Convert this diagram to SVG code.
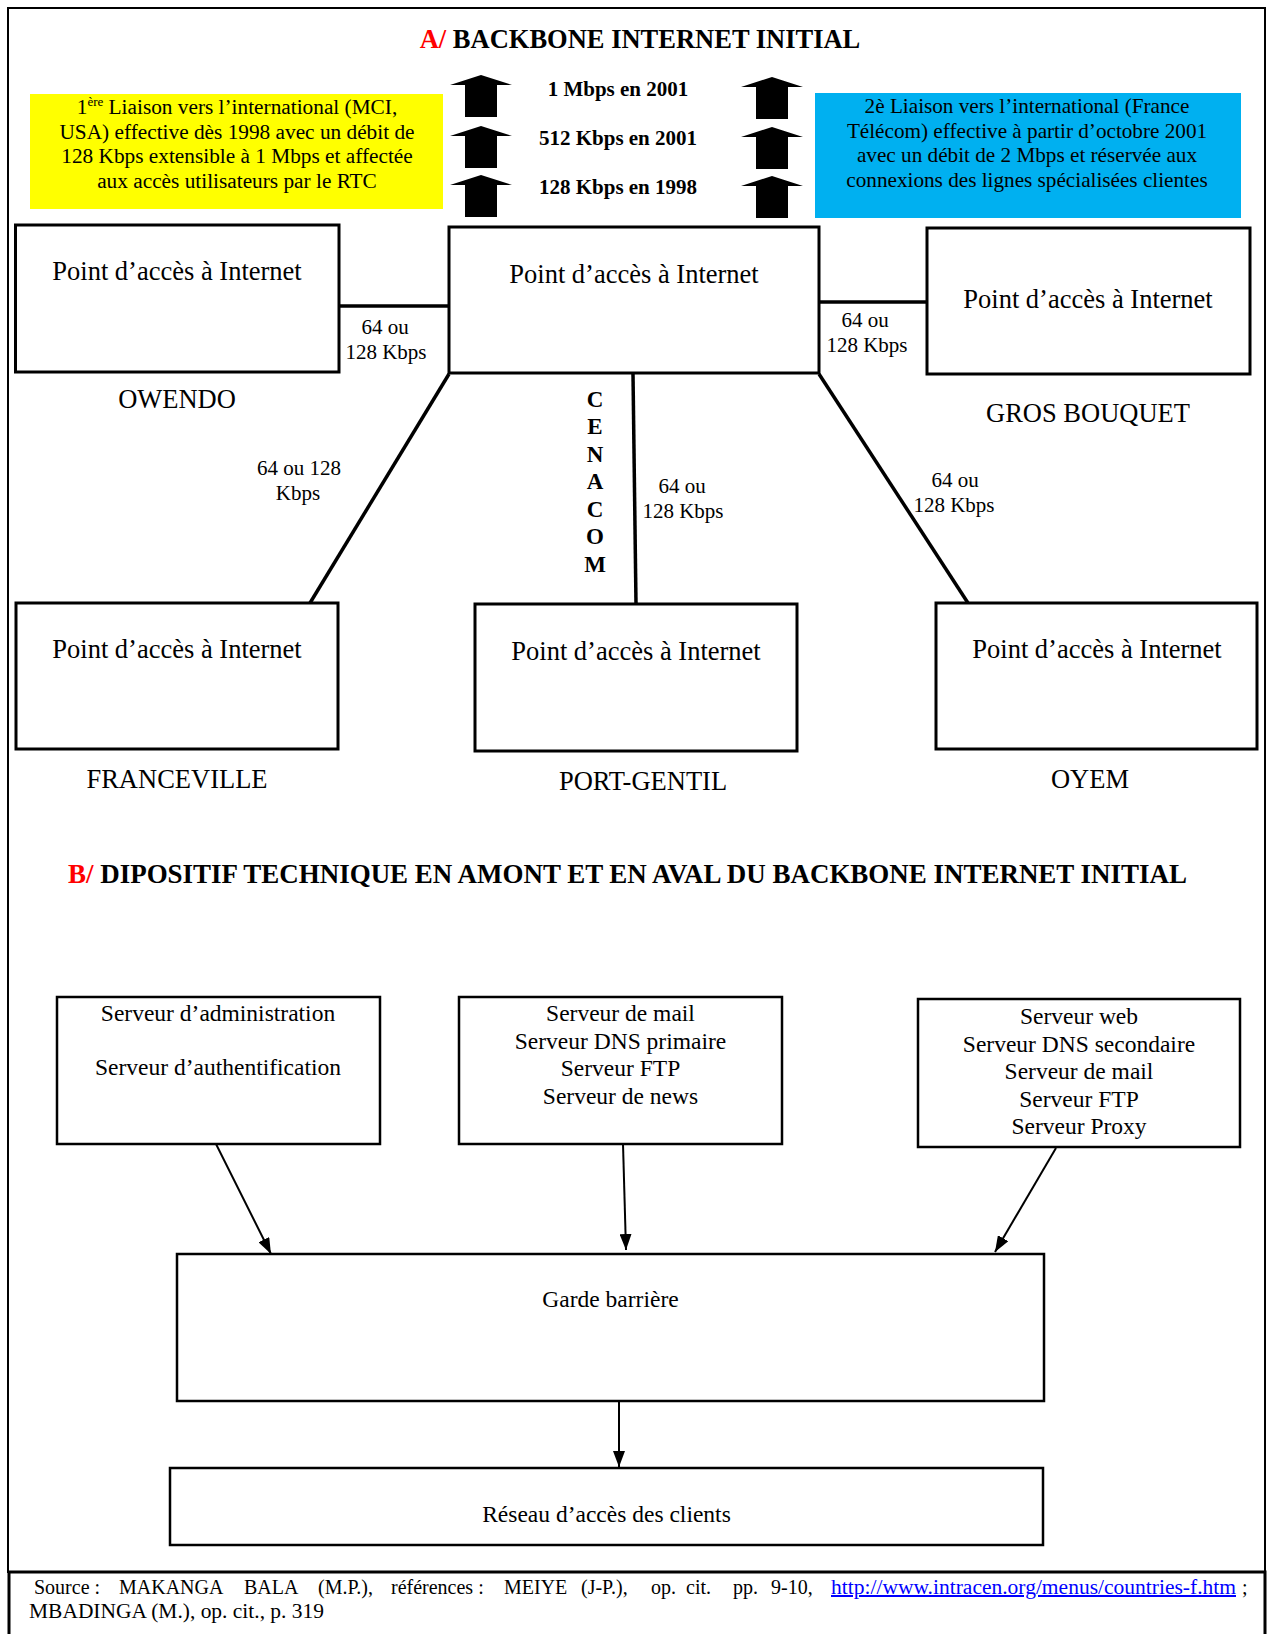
<svg xmlns="http://www.w3.org/2000/svg" width="1268" height="1634" viewBox="0 0 1268 1634">
<defs>
<style>
.t{font-family:"Liberation Serif","Times New Roman",serif;fill:#000}
.b{font-weight:bold}
.box{fill:#fff;stroke:#000;stroke-width:3}
.boxb{fill:#fff;stroke:#000;stroke-width:2.5}
.ln{stroke:#000;stroke-width:3.5;fill:none}
.ar{stroke:#000;stroke-width:2;fill:none;marker-end:url(#ah)}
.red{fill:#ff0000}
.f{font-size:20px}
</style>
<marker id="ah" viewBox="0 0 16 12" refX="16" refY="6" markerWidth="16" markerHeight="12" markerUnits="userSpaceOnUse" orient="auto">
<path d="M0,0 L16,6 L0,12 z" fill="#000"/>
</marker>
<path id="blk" d="M0,0 L31,10 L16,10 L16,42 L-16,42 L-16,10 L-31,10 Z" fill="#000"/>
</defs>
<rect width="1268" height="1634" fill="#fff"/>
<rect x="8" y="8" width="1257" height="1564" fill="none" stroke="#000" stroke-width="2"/>
<path d="M9,1634 L9,1572 L1265,1572 L1265,1634" fill="none" stroke="#000" stroke-width="3"/>

<text class="t b" x="640" y="48" font-size="26.5" text-anchor="middle"><tspan class="red">A/</tspan> BACKBONE INTERNET INITIAL</text>

<g id="uplinks">
<use href="#blk" x="481" y="75"/>
<use href="#blk" x="481" y="126"/>
<use href="#blk" x="481" y="175"/>
<use href="#blk" x="772" y="77"/>
<use href="#blk" x="772" y="127"/>
<use href="#blk" x="772" y="176"/>
<text class="t b" x="618" y="96" font-size="21" text-anchor="middle">1 Mbps en 2001</text>
<text class="t b" x="618" y="145" font-size="21" text-anchor="middle">512 Kbps en 2001</text>
<text class="t b" x="618" y="194" font-size="21" text-anchor="middle">128 Kbps en 1998</text>
</g>

<g id="liaison1">
<rect x="30" y="94" width="413" height="115" fill="#ffff00"/>
<text class="t" x="237" y="114" font-size="21.3" text-anchor="middle">1<tspan font-size="13" dy="-8">ère</tspan><tspan dy="8"> Liaison vers l’international (MCI,</tspan></text>
<text class="t" x="237" y="138.5" font-size="21.3" text-anchor="middle">USA) effective dès 1998 avec un débit de</text>
<text class="t" x="237" y="163" font-size="21.3" text-anchor="middle">128 Kbps extensible à 1 Mbps et affectée</text>
<text class="t" x="237" y="187.5" font-size="21.3" text-anchor="middle">aux accès utilisateurs par le RTC</text>
</g>

<g id="liaison2">
<rect x="815" y="93" width="426" height="125" fill="#00b0f0"/>
<text class="t" x="1027" y="113" font-size="21.2" text-anchor="middle">2è Liaison vers l’international (France</text>
<text class="t" x="1027" y="137.5" font-size="21.2" text-anchor="middle">Télécom) effective à partir d’octobre 2001</text>
<text class="t" x="1027" y="162" font-size="21.2" text-anchor="middle">avec un débit de 2 Mbps et réservée aux</text>
<text class="t" x="1027" y="186.5" font-size="21.2" text-anchor="middle">connexions des lignes spécialisées clientes</text>
</g>

<g id="connectors">
<line class="ln" x1="339" y1="306" x2="449" y2="306"/>
<line class="ln" x1="819" y1="302" x2="927" y2="302"/>
<line class="ln" x1="449" y1="374" x2="310" y2="603"/>
<line class="ln" x1="633" y1="374" x2="636" y2="604"/>
<line class="ln" x1="819" y1="374" x2="968" y2="603"/>
<text class="t" x="385" y="334" font-size="21" text-anchor="middle">64 ou</text>
<text class="t" x="386" y="359" font-size="21" text-anchor="middle">128 Kbps</text>
<text class="t" x="865" y="327" font-size="21" text-anchor="middle">64 ou</text>
<text class="t" x="867" y="352" font-size="21" text-anchor="middle">128 Kbps</text>
<text class="t" x="299" y="475" font-size="21" text-anchor="middle">64 ou 128</text>
<text class="t" x="298" y="500" font-size="21" text-anchor="middle">Kbps</text>
<text class="t" x="682" y="493" font-size="21" text-anchor="middle">64 ou</text>
<text class="t" x="683" y="518" font-size="21" text-anchor="middle">128 Kbps</text>
<text class="t" x="955" y="487" font-size="21" text-anchor="middle">64 ou</text>
<text class="t" x="954" y="512" font-size="21" text-anchor="middle">128 Kbps</text>
<line class="ar" x1="216" y1="1144" x2="271" y2="1254"/>
<line class="ar" x1="623" y1="1144" x2="626" y2="1250"/>
<line class="ar" x1="1056" y1="1148" x2="995" y2="1252"/>
<line class="ar" x1="619" y1="1401" x2="619" y2="1467"/>
</g>

<g id="owendo">
<rect class="box" x="15.5" y="225" width="323.5" height="147"/>
<text class="t" x="177" y="280" font-size="26.5" text-anchor="middle">Point d’accès à Internet</text>
<text class="t" x="177" y="408" font-size="26.5" text-anchor="middle">OWENDO</text>
</g>

<g id="cenacom">
<rect class="box" x="449" y="227" width="370" height="146"/>
<text class="t" x="634" y="283" font-size="26.5" text-anchor="middle">Point d’accès à Internet</text>
<text class="t b" font-size="23" text-anchor="middle"><tspan x="595" y="406.7">C</tspan><tspan x="595" dy="27.5">E</tspan><tspan x="595" dy="27.5">N</tspan><tspan x="595" dy="27.5">A</tspan><tspan x="595" dy="27.5">C</tspan><tspan x="595" dy="27.5">O</tspan><tspan x="595" dy="27.5">M</tspan></text>
</g>

<g id="grosbouquet">
<rect class="box" x="927" y="228" width="323" height="146"/>
<text class="t" x="1088" y="308" font-size="26.5" text-anchor="middle">Point d’accès à Internet</text>
<text class="t" x="1088" y="422" font-size="26.5" text-anchor="middle">GROS BOUQUET</text>
</g>

<g id="franceville">
<rect class="box" x="16" y="603" width="322" height="146"/>
<text class="t" x="177" y="658" font-size="26.5" text-anchor="middle">Point d’accès à Internet</text>
<text class="t" x="177" y="788" font-size="26.5" text-anchor="middle">FRANCEVILLE</text>
</g>

<g id="portgentil">
<rect class="box" x="475" y="604" width="322" height="147"/>
<text class="t" x="636" y="660" font-size="26.5" text-anchor="middle">Point d’accès à Internet</text>
<text class="t" x="643" y="790" font-size="26.5" text-anchor="middle">PORT-GENTIL</text>
</g>

<g id="oyem">
<rect class="box" x="936" y="603" width="321" height="146"/>
<text class="t" x="1097" y="658" font-size="26.5" text-anchor="middle">Point d’accès à Internet</text>
<text class="t" x="1090" y="788" font-size="26.5" text-anchor="middle">OYEM</text>
</g>

<text class="t b" x="68" y="883" font-size="26.5" textLength="1119" lengthAdjust="spacingAndGlyphs"><tspan class="red">B/</tspan> DIPOSITIF TECHNIQUE EN AMONT ET EN AVAL DU BACKBONE INTERNET INITIAL</text>

<g id="srv-admin">
<rect class="boxb" x="57" y="997" width="323" height="147"/>
<text class="t" x="218" y="1021" font-size="23.5" text-anchor="middle">Serveur d’administration</text>
<text class="t" x="218" y="1075" font-size="23.5" text-anchor="middle">Serveur d’authentification</text>
</g>

<g id="srv-mail">
<rect class="boxb" x="459" y="997" width="323" height="147"/>
<text class="t" x="620.5" y="1021" font-size="23.5" text-anchor="middle">Serveur de mail</text>
<text class="t" x="620.5" y="1048.5" font-size="23.5" text-anchor="middle">Serveur DNS primaire</text>
<text class="t" x="620.5" y="1076" font-size="23.5" text-anchor="middle">Serveur FTP</text>
<text class="t" x="620.5" y="1104" font-size="23.5" text-anchor="middle">Serveur de news</text>
</g>

<g id="srv-web">
<rect class="boxb" x="918" y="999" width="322" height="148"/>
<text class="t" x="1079" y="1024" font-size="23.5" text-anchor="middle">Serveur web</text>
<text class="t" x="1079" y="1051.5" font-size="23.5" text-anchor="middle">Serveur DNS secondaire</text>
<text class="t" x="1079" y="1079" font-size="23.5" text-anchor="middle">Serveur de mail</text>
<text class="t" x="1079" y="1107" font-size="23.5" text-anchor="middle">Serveur FTP</text>
<text class="t" x="1079" y="1134" font-size="23.5" text-anchor="middle">Serveur Proxy</text>
</g>

<g id="garde">
<rect class="boxb" x="177" y="1254" width="867" height="147"/>
<text class="t" x="610.5" y="1307" font-size="23.5" text-anchor="middle">Garde barrière</text>
</g>

<g id="reseau">
<rect class="boxb" x="170" y="1468" width="873" height="77"/>
<text class="t" x="606.5" y="1522" font-size="23.5" text-anchor="middle">Réseau d’accès des clients</text>
</g>

<g id="source">
<text class="t f" y="1594"><tspan x="34">Source :</tspan><tspan x="119">MAKANGA</tspan><tspan x="244">BALA</tspan><tspan x="318">(M.P.),</tspan><tspan x="391">références :</tspan><tspan x="504">MEIYE</tspan><tspan x="581">(J-P.),</tspan><tspan x="651">op.</tspan><tspan x="686">cit.</tspan><tspan x="733">pp.</tspan><tspan x="771">9-10,</tspan></text>
<text class="t f" x="831" y="1594" textLength="405" lengthAdjust="spacingAndGlyphs" style="fill:#0000ff" text-decoration="underline">http://www.intracen.org/menus/countries-f.htm</text>
<text class="t f" x="1242" y="1594">;</text>
<text class="t f" x="29" y="1618" textLength="295" lengthAdjust="spacingAndGlyphs">MBADINGA (M.), op. cit., p. 319</text>
</g>
</svg>
